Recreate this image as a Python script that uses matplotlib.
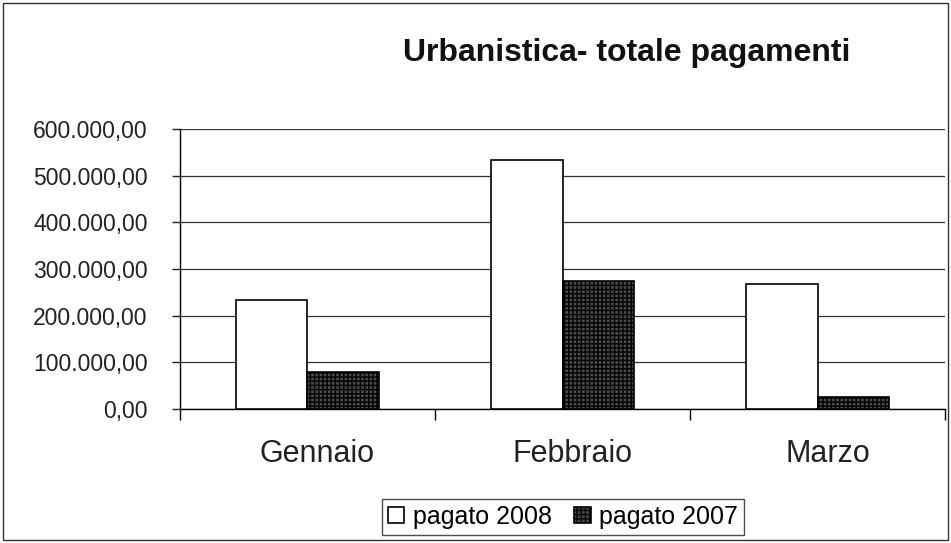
import numpy as np
import matplotlib.pyplot as plt
import matplotlib.transforms as mtransforms
from matplotlib.patches import Rectangle
from matplotlib.ticker import FuncFormatter

## Data
months = ["Gennaio", "Febbraio", "Marzo"]
pagato_2008 = [234000, 534000, 269000]
pagato_2007 = [80000, 275000, 26000]
series_names = ["pagato 2008", "pagato 2007"]

plt.rcParams['font.family'] = ['Liberation Sans', 'DejaVu Sans']

## Figure
fig = plt.figure(figsize=(9.51, 5.43), dpi=100)
ax = fig.add_axes([0.189, 0.247, 0.805, 0.515])

x = np.arange(len(months))
w = 0.28
ax.bar(x - w/2, pagato_2008, w, color='white', edgecolor='black', lw=1.2,
       label=series_names[0], zorder=3)
ax.bar(x + w/2, pagato_2007, w, color='#4a4a4a', edgecolor='black', lw=1.2,
       hatch='++++', label=series_names[1], zorder=3)

# axes, ticks, grid
ax.set_ylim(0, 600000)
ax.set_xlim(-0.5, 2.5)
ax.set_yticks(np.arange(0, 600001, 100000))
ax.yaxis.set_major_formatter(FuncFormatter(
    lambda v, p: f"{v:,.2f}".replace(",", "X").replace(".", ",").replace("X", ".")))
ax.tick_params(axis='y', labelsize=16.5, length=6, width=1, pad=17, colors='#222222')
ax.set_xticks([-0.5, 0.5, 1.5, 2.5])
ax.set_xticklabels([])
ax.tick_params(axis='x', which='major', length=8, width=1)
ax.set_xticks(x, minor=True)
ax.set_xticklabels(months, minor=True)
ax.tick_params(axis='x', which='minor', length=0, labelsize=22, pad=22, colors='#222222')
# the scanned labels sit a little right of the category centres
shift = mtransforms.ScaledTranslation(10/100, 0, fig.dpi_scale_trans)
for lab in ax.get_xticklabels(minor=True):
    lab.set_transform(lab.get_transform() + shift)
ax.yaxis.grid(True, color='#333333', lw=0.9, zorder=0)
for s in ['top', 'right']:
    ax.spines[s].set_visible(False)
ax.spines['left'].set_linewidth(1)
ax.spines['bottom'].set_linewidth(1)

## Title and legend
fig.text(0.659, 0.902, "Urbanistica- totale pagamenti", ha='center', va='center',
         fontsize=23, fontweight='bold', color='#111111')
leg = fig.legend(loc='center', bbox_to_anchor=(0.592, 0.048), ncol=2, fontsize=18,
                 frameon=True, fancybox=False, edgecolor='#222222', handlelength=0.65,
                 handleheight=0.65, handletextpad=0.35, columnspacing=0.9,
                 borderpad=0.25)
leg.get_frame().set_linewidth(1)

# chart area border
fig.patches.append(Rectangle((0.003, 0.005), 0.994, 0.99, transform=fig.transFigure,
                             fill=False, edgecolor='#333333', lw=1))

fig.savefig("out.png", dpi=100)
